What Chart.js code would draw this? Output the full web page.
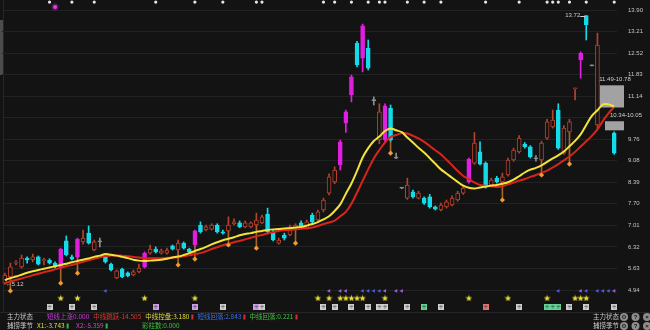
<!DOCTYPE html>
<html>
<head>
<meta charset="utf-8">
<script src="https://cdn.jsdelivr.net/npm/chart.js@4.4.0/dist/chart.umd.min.js"></script>
<style>
  html, body { margin: 0; padding: 0; background: #131313; overflow: hidden; }
</style>
</head>
<body>
<canvas id="kline" width="650" height="330"></canvas>
<script>
// ---- data ----
const days = Array.from({ length: 110 }, (_, i) => 'D' + (i + 1));

const open = [
  5.16, 5.36, 5.80, 5.68, 5.96, 5.90, 6.00, 5.88, 5.90, 5.80,
  5.68, 6.51, 6.00, 6.00, 6.48, 6.76, 6.22, 6.48, 5.99, 5.77,
  5.33, 5.61, 5.49, 5.42, 5.52, 5.68, 6.12, 6.25, 6.12, 6.12,
  6.35, 6.22, 6.44, 6.25, 6.38, 7.02, 6.86, 6.89, 7.02, 6.80,
  6.83, 7.06, 7.09, 6.96, 6.96, 7.02, 7.09, 7.37, 6.80, 6.44,
  6.70, 6.70, 6.93, 7.09, 6.93, 7.34, 7.18, 7.50, 8.04, 8.40,
  8.94, 10.28, 11.18, 12.84, 12.36, 12.68, 11.00, 9.74, 9.74, 10.76,
  9.16, 8.20, 7.88, 8.08, 7.88, 7.88, 7.92, 7.60, 7.50, 7.60,
  7.66, 7.82, 8.04, 8.40, 9.00, 9.36, 9.00, 8.30, 8.52, 8.40,
  8.62, 9.10, 9.36, 9.61, 9.52, 9.14, 9.10, 9.80, 10.16, 10.70,
  9.32, 10.00, 11.40, 12.30, 13.72, 12.11, 10.22, null, null, 9.96
];
const close = [
  5.42, 5.68, 5.82, 5.96, 5.90, 6.00, 5.77, 5.90, 5.80, 5.68,
  6.25, 6.06, 5.93, 6.57, 6.60, 6.44, 6.48, 6.50, 5.84, 5.58,
  5.55, 5.36, 5.39, 5.52, 5.64, 6.12, 6.25, 6.16, 6.19, 6.22,
  6.25, 6.44, 6.28, 6.16, 6.83, 6.80, 6.96, 7.02, 6.80, 6.76,
  7.02, 7.12, 6.96, 7.09, 7.09, 7.18, 7.28, 6.80, 6.54, 6.54,
  6.60, 6.96, 7.02, 6.93, 7.12, 7.12, 7.44, 7.82, 8.56, 8.78,
  9.68, 10.64, 11.76, 12.14, 13.39, 12.04, 11.02, 10.64, 10.83, 9.74,
  9.18, 8.21, 8.30, 7.92, 8.04, 7.72, 7.60, 7.53, 7.66, 7.76,
  7.88, 8.04, 8.20, 9.13, 9.64, 8.97, 8.24, 8.46, 8.40, 8.56,
  9.10, 9.42, 9.80, 9.52, 9.20, 9.16, 9.64, 10.32, 10.38, 9.48,
  10.12, 10.32, 11.38, 12.52, 13.42, 12.12, 12.78, null, null, 9.32
];
const high = [
  5.48, 5.80, 5.88, 6.06, 6.00, 6.09, 6.03, 5.96, 5.94, 5.84,
  6.28, 6.67, 6.06, 6.60, 6.86, 6.99, 6.54, 6.60, 6.02, 5.80,
  5.58, 5.64, 5.52, 5.58, 5.77, 6.16, 6.38, 6.32, 6.25, 6.28,
  6.38, 6.54, 6.48, 6.28, 6.86, 7.12, 7.02, 7.06, 7.06, 6.86,
  7.28, 7.22, 7.15, 7.15, 7.12, 7.40, 7.34, 7.56, 6.86, 6.60,
  6.76, 7.02, 7.06, 7.15, 7.18, 7.40, 7.50, 7.88, 8.66, 8.88,
  9.74, 10.70, 11.82, 12.90, 13.45, 12.94, 11.12, 10.90, 10.90, 10.86,
  9.32, 8.22, 8.52, 8.14, 8.10, 7.92, 8.00, 7.63, 7.72, 7.82,
  7.95, 8.10, 8.26, 9.16, 9.98, 9.68, 9.04, 8.52, 8.58, 8.68,
  9.16, 9.48, 9.88, 9.66, 9.56, 9.24, 9.70, 10.40, 10.70, 10.90,
  10.20, 10.40, 11.40, 12.56, 13.72, 12.12, 13.16, null, null, 10.00
];
const low = [
  5.12, 5.32, 5.74, 5.64, 5.80, 5.84, 5.74, 5.74, 5.77, 5.64,
  5.64, 6.03, 5.90, 5.96, 6.41, 6.41, 6.19, 6.32, 5.80, 5.55,
  5.30, 5.33, 5.36, 5.39, 5.49, 5.64, 6.09, 6.12, 6.09, 6.09,
  6.22, 6.18, 6.25, 6.12, 6.34, 6.76, 6.83, 6.86, 6.76, 6.73,
  6.80, 7.02, 6.93, 6.93, 6.93, 6.99, 7.06, 6.76, 6.51, 6.41,
  6.54, 6.67, 6.90, 6.90, 6.90, 7.09, 7.12, 7.44, 7.98, 8.34,
  8.78, 9.98, 10.96, 12.08, 11.92, 11.98, 10.86, 9.62, 9.66, 9.70,
  9.14, 8.18, 7.84, 7.88, 7.85, 7.68, 7.56, 7.50, 7.47, 7.56,
  7.63, 7.78, 8.00, 8.36, 8.96, 8.94, 8.20, 8.26, 8.36, 8.36,
  8.58, 9.06, 9.32, 9.48, 9.16, 9.06, 9.06, 9.76, 10.12, 9.44,
  9.28, 9.96, 11.02, 11.72, 12.94, 12.11, 10.10, null, null, 9.28
];
// r = hollow up, c = cyan down, m = magenta, g = grey doji, - = none
const kind = (
  'rrrrcrcrcc' + 'mccmrcrgcc' + 'rccrrmrcrr' + 'crccmcrrcc' + 'rrcrrrrccr' +
  'crrcrcrrrr' + 'mmmcmcgrmc' + 'ggrcrcccrr' + 'rrrmrccrcr' + 'rrrccgrrrc' + 'rrrmcgr--c'
).split('');

const maShort = [
  5.26, 5.32, 5.37, 5.43, 5.49, 5.54, 5.58, 5.62, 5.66, 5.70,
  5.74, 5.78, 5.83, 5.87, 5.91, 5.95, 6.00, 6.04, 6.09, 6.07,
  6.04, 6.00, 5.96, 5.91, 5.88, 5.87, 5.88, 5.89, 5.91, 5.94,
  5.98, 6.01, 6.06, 6.12, 6.19, 6.25, 6.32, 6.40, 6.47, 6.53,
  6.58, 6.63, 6.69, 6.73, 6.76, 6.80, 6.83, 6.86, 6.88, 6.89,
  6.91, 6.92, 6.94, 6.96, 7.00, 7.05, 7.11, 7.20, 7.30, 7.47,
  7.68, 8.02, 8.35, 8.75, 9.18, 9.48, 9.71, 9.85, 10.03, 10.11,
  10.05, 9.99, 9.82, 9.66, 9.49, 9.34, 9.16, 8.98, 8.80, 8.67,
  8.53, 8.40, 8.28, 8.21, 8.19, 8.22, 8.25, 8.28, 8.30, 8.34,
  8.39, 8.47, 8.58, 8.70, 8.79, 8.85, 8.93, 9.04, 9.15, 9.25,
  9.37, 9.54, 9.71, 9.92, 10.22, 10.51, 10.69, 10.88, 10.88, 10.81
];
const maLong = [
  5.16, 5.21, 5.26, 5.31, 5.36, 5.41, 5.46, 5.51, 5.55, 5.60,
  5.65, 5.70, 5.74, 5.79, 5.84, 5.89, 5.94, 5.99, 6.03, 6.04,
  6.04, 6.04, 6.02, 6.00, 5.98, 5.96, 5.96, 5.96, 5.96, 5.97,
  5.98, 5.99, 6.02, 6.05, 6.09, 6.12, 6.18, 6.25, 6.31, 6.37,
  6.42, 6.47, 6.51, 6.56, 6.61, 6.66, 6.70, 6.75, 6.79, 6.83,
  6.85, 6.86, 6.88, 6.90, 6.91, 6.94, 6.99, 7.05, 7.10, 7.16,
  7.30, 7.44, 7.70, 8.06, 8.43, 8.80, 9.15, 9.42, 9.66, 9.83,
  9.90, 9.96, 9.95, 9.87, 9.79, 9.68, 9.55, 9.41, 9.28, 9.11,
  8.93, 8.75, 8.59, 8.49, 8.38, 8.30, 8.28, 8.26, 8.24, 8.26,
  8.32, 8.38, 8.44, 8.49, 8.56, 8.62, 8.69, 8.76, 8.86, 8.97,
  9.09, 9.21, 9.36, 9.53, 9.70, 9.87, 10.08, 10.36, 10.60, 10.80
];

const diaIdx = [1, 10, 13, 31, 34, 40, 45, 52, 69, 89, 96, 101];
const diaVal = [4.91, 5.16, 5.48, 5.74, 5.93, 6.38, 6.28, 6.44, 9.32, 7.82, 8.62, 8.97];

const sqIdx = [8, 12, 16, 27, 34, 39, 45, 46, 57, 59, 62, 65, 67, 68, 72, 75, 78, 86, 92, 97, 98, 99, 101, 104, 109];
const sqKind = ['g', 'g', 'g', 'p', 'p', 'g', 'p', 'g', 'g', 'g', 'g', 'g', 'g', 'g', 'g', 'n', 'g', 'r', 'g', 'n', 'n', 'n', 'g', 'g', 'g'];
const starIdx = [10, 13, 25, 34, 56, 58, 60, 61, 62, 63, 64, 68, 83, 90, 97, 102, 103, 104];
const arrowIdx = [18, 58, 60, 61, 64, 65, 66, 67, 68, 70, 71, 99, 103, 104, 106, 107, 108, 109];
const arrowKind = ['b', 'p', 'p', 'p', 'b', 'b', 'b', 'b', 'p', 'p', 'p', 'b', 'p', 'b', 'b', 'b', 'b', 'p'];
const glowIdx = 9;

const tickVals = [13.90, 13.21, 12.52, 11.83, 11.14, 10.45, 9.76, 9.08, 8.39, 7.70, 7.01, 6.32, 5.63, 4.94];
const tickLabels = ['13.90', '13.21', '12.52', '11.83', '11.14', '', '9.76', '9.08', '8.39', '7.70', '7.01', '6.32', '5.63', '4.94'];

const zones = [[11.49, 10.78], [10.34, 10.05]];
const zoneText = ['11.49-10.78', '10.34-10.05'];
const highMark = { idx: 104, text: '13.72' };
const lowMark = { idx: 0, text: '\u21905.12' };

const row1 = [
  ['主力状态', '#c8c8c8', null, 7],
  ['短线上涨0.000', '#c53ad6', null, 47],
  ['中线跳跃-14.505', '#e0382e', null, 84],
  ['中线控盘:3.180', '#e4de3e', '#d03030', 137],
  ['短线回落:2.843', '#3a6fe6', '#d03030', 188],
  ['中线回落:0.221', '#3cc43c', '#d03030', 240]
];
const row2 = [
  ['捕捞季节', '#c8c8c8', null, 7],
  ['X1:-3.743', '#e4de3e', '#30b84a', 36],
  ['X2:-5.359', '#d040d0', '#30b84a', 76],
  ['彩柱数:0.000', '#40c040', null, 142]
];

// ---- styling ----
const BG = '#131313';
const COL = { r: '#b8422d', c: '#14dbea', m: '#e01fe0', g: '#8e8e8e' };
const SQ = { g: '#cfcfcf', p: '#c9a2e6', n: '#62d495', r: '#e07474' };
const ROW_TOP = 14.155, ROW_ARROW = 4.91, ROW_STAR = 4.685, ROW_SQ = 4.40;
const FONT = "'Liberation Sans', 'DejaVu Sans', sans-serif";
const CJK = "'Noto Sans CJK SC', 'Liberation Sans', sans-serif";

function starImg(color, s) {
  const cv = document.createElement('canvas');
  cv.width = cv.height = s;
  const g = cv.getContext('2d');
  g.fillStyle = color;
  g.beginPath();
  for (let k = 0; k < 10; k++) {
    const r = k % 2 ? s * 0.21 : s * 0.5;
    const a = -Math.PI / 2 + k * Math.PI / 5;
    g.lineTo(s / 2 + r * Math.cos(a), s / 2 + 0.4 + r * Math.sin(a));
  }
  g.closePath();
  g.fill();
  return cv;
}
function sqImg(color) {
  const cv = document.createElement('canvas');
  cv.width = cv.height = 6;
  const g = cv.getContext('2d');
  g.fillStyle = color;
  g.fillRect(0, 0, 6, 6);
  g.fillStyle = 'rgba(40,40,40,0.45)';
  g.fillRect(1, 2, 4, 1);
  g.fillRect(2.5, 1, 1, 4);
  return cv;
}
const starPic = starImg('#f1e23a', 7);
const sqPics = {};
Object.keys(SQ).forEach(k => { sqPics[k] = sqImg(SQ[k]); });

// ---- build library data from the arrays ----
const blank = () => days.map(() => null);
const bodyData = open.map((o, i) => o == null ? null : [Math.min(o, close[i]), Math.max(o, close[i])]);
const wickData = low.map((l, i) => l == null ? null : [l, high[i]]);
const fillCol = kind.map(k => k === 'r' ? BG : (COL[k] || BG));
const lineCol = kind.map(k => COL[k] || BG);

const stemData = blank(), diaData = blank();
diaIdx.forEach((k, j) => {
  diaData[k] = diaVal[j];
  stemData[k] = [diaVal[j], Math.min(open[k], close[k])];
});
const sqData = blank(), sqStyle = days.map(() => 'rect'), topData = blank();
sqIdx.forEach((k, j) => { sqData[k] = ROW_SQ; sqStyle[k] = sqPics[sqKind[j]]; topData[k] = ROW_TOP; });
const starData = blank();
starIdx.forEach(k => { starData[k] = ROW_STAR; });
const arrowData = blank(), arrowCol = days.map(() => '#7a5ce0');
arrowIdx.forEach((k, j) => { arrowData[k] = ROW_ARROW; arrowCol[k] = arrowKind[j] === 'p' ? '#9a5fe0' : '#4b5be6'; });
const glowData = blank();
glowData[glowIdx] = 13.996;

const pointSet = (data, extra) => Object.assign({
  type: 'line', data: data, showLine: false, order: 0, clip: false,
  pointHoverRadius: 0, pointHitRadius: 0
}, extra);

const decor = {
  id: 'decor',
  beforeDraw(chart) {
    const c = chart.ctx;
    c.save();
    c.fillStyle = BG;
    c.fillRect(0, 0, chart.width, chart.height);
    c.fillStyle = '#4c4c4c';
    c.fillRect(0, 20, 3, 55);
    c.strokeStyle = '#262626';
    c.beginPath();
    c.moveTo(3.5, 0); c.lineTo(3.5, 312);
    c.moveTo(0, 312.5); c.lineTo(650, 312.5);
    c.stroke();
    c.restore();
  },
  beforeDatasetsDraw(chart) {
    const c = chart.ctx, ys = chart.scales.y, a = chart.chartArea;
    c.save();
    c.fillStyle = '#a2a2a2';
    zones.forEach(([hi, lo], k) => {
      const top = ys.getPixelForValue(hi), bot = ys.getPixelForValue(lo);
      const left = k === 0 ? a.right - 17 : a.right - 12;
      c.fillRect(left, top, a.right + 7 - left, bot - top);
    });
    c.restore();
  },
  afterDatasetsDraw(chart) {
    const c = chart.ctx, xs = chart.scales.x, ys = chart.scales.y, a = chart.chartArea;
    c.save();
    c.font = '6px ' + FONT;
    c.fillStyle = '#cfcfcf';
    c.textBaseline = 'middle';
    // zone captions
    c.textAlign = 'center';
    c.fillText(zoneText[0], a.right - 2, ys.getPixelForValue(zones[0][0]) - 6);
    c.textAlign = 'left';
    c.fillText(zoneText[1], a.right - 7, ys.getPixelForValue(zones[1][0]) - 6);
    // high / low labels
    const hx = xs.getPixelForValue(highMark.idx), hy = ys.getPixelForValue(high[highMark.idx]);
    c.textAlign = 'right';
    c.fillText(highMark.text, hx - 6, hy);
    c.strokeStyle = '#cfcfcf';
    c.lineWidth = 1;
    c.beginPath();
    c.moveTo(hx - 6, Math.round(hy) + 0.5); c.lineTo(hx - 1, Math.round(hy) + 0.5);
    c.stroke();
    const lx = xs.getPixelForValue(lowMark.idx), ly = ys.getPixelForValue(low[lowMark.idx]);
    c.textAlign = 'left';
    c.fillText(lowMark.text, lx + 1, ly);
    c.restore();
  },
  afterDraw(chart) {
    const c = chart.ctx;
    c.save();
    c.textBaseline = 'middle';
    c.textAlign = 'left';
    c.font = '6.5px ' + CJK;
    const drawRow = (row, y) => {
      let end = 0;
      row.forEach(([txt, col, mark, pos]) => {
        const x = Math.max(pos, end + 4);
        c.fillStyle = col;
        c.fillText(txt, x, y);
        end = x + c.measureText(txt).width;
        if (mark) {
          c.fillStyle = mark;
          c.fillRect(end + 2, y - 2.5, 2, 5);
          end += 4;
        }
      });
    };
    drawRow(row1, 317);
    drawRow(row2, 326);
    c.fillStyle = '#c8c8c8';
    c.textAlign = 'right';
    c.fillText('主力状态', 619, 317);
    c.fillText('捕捞季节', 619, 326);
    [317, 326].forEach(y => {
      ['\u2699', '?', '\u00d7'].forEach((g, k) => {
        const x = 624 + k * 11.5;
        c.fillStyle = '#8d8d8d';
        c.beginPath(); c.arc(x, y, 4, 0, Math.PI * 2); c.fill();
        c.fillStyle = BG;
        c.textAlign = 'center';
        c.font = 'bold 6px ' + FONT;
        c.fillText(g, x, y + 0.3);
      });
    });
    c.restore();
  }
};

Chart.defaults.font.family = FONT;

new Chart(document.getElementById('kline'), {
  type: 'bar',
  data: {
    labels: days,
    datasets: [
      { type: 'line', data: maShort, borderColor: '#f1e33b', borderWidth: 2, pointRadius: 0, tension: 0.35, order: 1 },
      { type: 'line', data: maLong, borderColor: '#d8251c', borderWidth: 2, pointRadius: 0, tension: 0.35, order: 1 },
      {
        data: bodyData, backgroundColor: fillCol, borderColor: lineCol, borderWidth: 1,
        borderSkipped: false, barThickness: 4, minBarLength: 1, grouped: false, order: 2
      },
      {
        data: wickData, backgroundColor: lineCol, borderWidth: 0,
        barThickness: 1, minBarLength: 1, grouped: false, order: 3
      },
      {
        data: stemData, backgroundColor: 'rgba(214,128,44,0.75)', borderWidth: 0,
        barThickness: 1, grouped: false, order: 3
      },
      pointSet(diaData, { pointStyle: 'rectRot', pointRadius: 2.6, pointBackgroundColor: '#f39a2e', pointBorderWidth: 0 }),
      pointSet(starData, { pointStyle: starPic, pointRadius: 3 }),
      pointSet(sqData, { pointStyle: sqStyle, pointRadius: 3 }),
      pointSet(arrowData, { pointStyle: 'triangle', rotation: -90, pointRadius: 2.2, pointBackgroundColor: arrowCol, pointBorderWidth: 0 }),
      pointSet(topData, { pointStyle: 'circle', pointRadius: 1.6, pointBackgroundColor: '#e6e6e6', pointBorderWidth: 0 }),
      pointSet(glowData, { pointStyle: 'circle', pointRadius: 2, pointBackgroundColor: '#e64ee6', pointBorderColor: 'rgba(200,40,200,0.35)', pointBorderWidth: 3 })
    ]
  },
  options: {
    responsive: false,
    animation: false,
    events: [],
    layout: { autoPadding: false, padding: { left: 2, right: 0, top: 0, bottom: 18 } },
    plugins: { legend: { display: false }, tooltip: { enabled: false } },
    scales: {
      x: { display: false, offset: true, grid: { display: false } },
      y: {
        position: 'right',
        min: 4.236,
        max: 14.22,
        afterBuildTicks: scale => { scale.ticks = tickVals.map(v => ({ value: v })); },
        afterFit: scale => {
          scale.width = 33;
          scale.paddingTop = 0;
          scale.paddingBottom = 0;
        },
        border: { display: false },
        grid: { color: '#222222', lineWidth: 1, drawTicks: false },
        ticks: {
          autoSkip: false,
          padding: 11,
          color: '#c4c4c4',
          font: { size: 6 },
          callback: (v, i) => tickLabels[i]
        }
      }
    }
  },
  plugins: [decor]
});
</script>
</body>
</html>
